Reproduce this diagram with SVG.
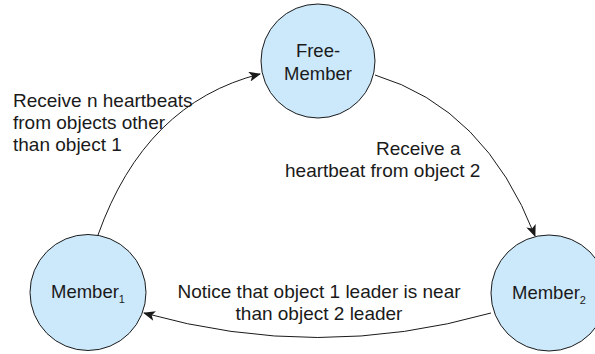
<svg xmlns="http://www.w3.org/2000/svg" width="595" height="354" viewBox="0 0 595 354">
  <style>
    .state { fill: #cce9fb; stroke: #1a1a1a; stroke-width: 1; }
    .name { font-family: "Liberation Sans", Arial, sans-serif; font-size: 18.5px; fill: #1a1a1a; text-anchor: middle; }
    .sub { font-size: 11px; }
    .edge { fill: none; stroke: #1a1a1a; stroke-width: 1; }
    .label { font-family: "Liberation Sans", Arial, sans-serif; font-size: 19px; fill: #1a1a1a; }
  </style>
  <defs>
    <marker id="arrow" viewBox="0 0 12 10" refX="11" refY="5" markerWidth="12" markerHeight="10" markerUnits="userSpaceOnUse" orient="auto">
      <path d="M0,0 L12,5 L0,10 L3,5 z" fill="#1a1a1a"/>
    </marker>
  </defs>

  <rect width="595" height="354" fill="#ffffff"/>

  <!-- transitions -->
  <g id="connectors">
    <path class="edge" d="M98,235 Q145,103 260,74" marker-end="url(#arrow)"/>
    <path class="edge" d="M375,75 Q485,108 535,236" marker-end="url(#arrow)"/>
    <path class="edge" d="M491,313 Q318,362 144,313" marker-end="url(#arrow)"/>
  </g>

  <!-- transition labels -->
  <g id="labels">
    <text class="label" x="13" y="107">Receive n heartbeats</text>
    <text class="label" x="13" y="129">from objects other</text>
    <text class="label" x="13" y="151">than object 1</text>
    <text class="label" x="376" y="155">Receive a</text>
    <text class="label" x="285" y="177">heartbeat from object 2</text>
    <text class="label" x="319" y="298" text-anchor="middle">Notice that object 1 leader is near</text>
    <text class="label" x="319" y="320" text-anchor="middle">than object 2 leader</text>
  </g>

  <!-- states -->
  <g id="free-member">
    <circle class="state" cx="318" cy="61" r="57"/>
    <text class="name" x="318" y="57">Free-</text>
    <text class="name" x="318" y="80">Member</text>
  </g>
  <g id="member1">
    <circle class="state" cx="88" cy="292.5" r="58"/>
    <text class="name" x="88" y="298">Member<tspan class="sub" dy="5">1</tspan></text>
  </g>
  <g id="member2">
    <circle class="state" cx="549" cy="293" r="58"/>
    <text class="name" x="549" y="299">Member<tspan class="sub" dy="5">2</tspan></text>
  </g>
</svg>
